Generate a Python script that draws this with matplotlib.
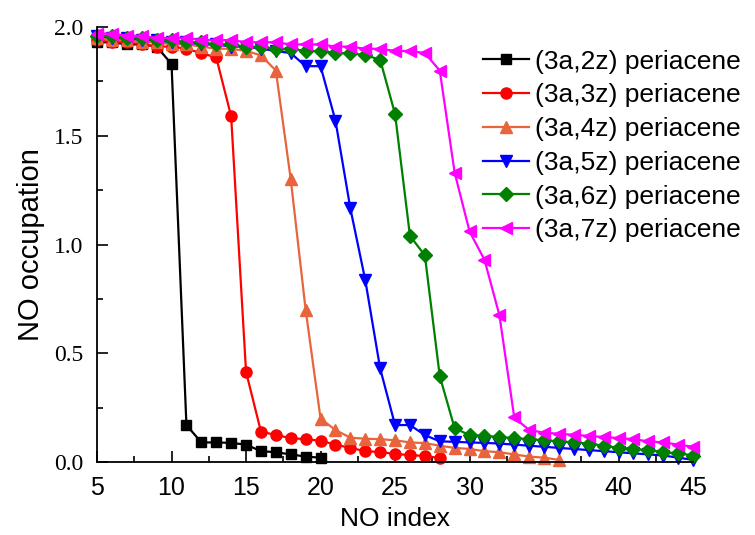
import numpy as np
import matplotlib
matplotlib.use('Agg')
import matplotlib.pyplot as plt
from matplotlib.ticker import MultipleLocator

# NO occupation numbers, NO index starts at 5 for every series
x_2z = list(range(5, 21))
occ_2z = [1.93, 1.93, 1.92, 1.92, 1.91, 1.83, 0.17, 0.09, 0.09, 0.088,
          0.08, 0.05, 0.045, 0.035, 0.025, 0.02]

x_3z = list(range(5, 29))
occ_3z = [1.94, 1.93, 1.93, 1.92, 1.91, 1.91, 1.90, 1.88, 1.86, 1.59,
          0.415, 0.14, 0.124, 0.11, 0.105, 0.098, 0.08, 0.065, 0.05, 0.046,
          0.037, 0.032, 0.028, 0.018]

x_4z = list(range(5, 37))
occ_4z = [1.95, 1.94, 1.94, 1.93, 1.93, 1.92, 1.92, 1.91, 1.90, 1.90,
          1.89, 1.87, 1.80, 1.30, 0.70, 0.20, 0.147, 0.112, 0.107, 0.105,
          0.10, 0.09, 0.087, 0.075, 0.065, 0.06, 0.05, 0.045, 0.035, 0.025,
          0.02, 0.01]

x_5z = list(range(5, 46))
occ_5z = [1.96, 1.95, 1.95, 1.94, 1.94, 1.93, 1.93, 1.92, 1.92, 1.91,
          1.91, 1.90, 1.89, 1.88, 1.82, 1.82, 1.57, 1.166, 0.837, 0.43,
          0.17, 0.17, 0.124, 0.095, 0.093, 0.09, 0.088, 0.085, 0.08, 0.075,
          0.07, 0.065, 0.06, 0.055, 0.05, 0.045, 0.04, 0.035, 0.03, 0.02,
          0.01]

x_6z = list(range(5, 46))
occ_6z = [1.96, 1.96, 1.95, 1.95, 1.94, 1.94, 1.93, 1.93, 1.92, 1.92,
          1.91, 1.91, 1.90, 1.90, 1.89, 1.89, 1.88, 1.88, 1.87, 1.85,
          1.60, 1.04, 0.95, 0.395, 0.155, 0.124, 0.12, 0.115, 0.11, 0.105,
          0.10, 0.095, 0.09, 0.085, 0.075, 0.065, 0.06, 0.055, 0.045, 0.04,
          0.03]

x_7z = list(range(5, 46))
occ_7z = [1.97, 1.97, 1.96, 1.96, 1.95, 1.95, 1.95, 1.94, 1.94, 1.94,
          1.93, 1.93, 1.93, 1.92, 1.92, 1.92, 1.91, 1.91, 1.90, 1.90,
          1.89, 1.89, 1.88, 1.80, 1.33, 1.06, 0.93, 0.676, 0.205, 0.147,
          0.135, 0.13, 0.125, 0.12, 0.115, 0.11, 0.105, 0.095, 0.09, 0.08,
          0.07]

labels = ['(3a,2z) periacene', '(3a,3z) periacene', '(3a,4z) periacene',
          '(3a,5z) periacene', '(3a,6z) periacene', '(3a,7z) periacene']

series = [(x_2z, occ_2z, 'black', 's', 7),
          (x_3z, occ_3z, '#ff0000', 'o', 8),
          (x_4z, occ_4z, '#e8643c', '^', 8),
          (x_5z, occ_5z, '#0000ff', 'v', 8),
          (x_6z, occ_6z, '#008000', 'D', 7),
          (x_7z, occ_7z, '#ff00ff', '<', 8)]

fig = plt.figure(figsize=(7.55, 5.35), dpi=100)
ax = fig.add_axes([0.1285, 0.1364, 0.7895, 0.8131])

for (xs, ys, col, mk, ms), lab in zip(series, labels):
    ax.plot(xs, ys, color=col, marker=mk, markersize=ms, linewidth=1.6,
            label=lab, clip_on=False)

ax.set_xlim(5, 45)
ax.set_ylim(0, 2.0)
ax.xaxis.set_major_locator(MultipleLocator(5))
ax.xaxis.set_minor_locator(MultipleLocator(2.5))
ax.yaxis.set_major_locator(MultipleLocator(0.5))
ax.yaxis.set_minor_locator(MultipleLocator(0.25))

ax.spines['top'].set_visible(False)
ax.spines['right'].set_visible(False)
for s in ['left', 'bottom']:
    ax.spines[s].set_linewidth(1.3)

ax.tick_params(which='major', direction='in', length=8, width=1.2)
ax.tick_params(which='minor', direction='in', length=4, width=1.2)
ax.tick_params(axis='x', which='major', pad=10)
ax.tick_params(axis='y', which='major', pad=10)

ax.set_xticks([5, 10, 15, 20, 25, 30, 35, 40, 45])
ax.set_xticklabels(['5', '10', '15', '20', '25', '30', '35', '40', '45'],
                   family='Liberation Sans', fontsize=18)
ax.set_yticks([0.0, 0.5, 1.0, 1.5, 2.0])
ax.set_yticklabels(['0.0', '0.5', '1.0', '1.5', '2.0'],
                   family='Liberation Serif', fontsize=17)

ax.set_xlabel('NO index', family='Liberation Sans', fontsize=19, labelpad=5)
ax.set_ylabel('NO occupation', family='Liberation Sans', fontsize=21, labelpad=6)

fig.legend(loc='upper left', bbox_to_anchor=(0.626, 0.927), frameon=False,
           prop={'family': 'Liberation Sans', 'size': 19},
           handlelength=1.75, handletextpad=0.2, labelspacing=0.37,
           borderaxespad=0)

fig.savefig('out.png', dpi=100)
